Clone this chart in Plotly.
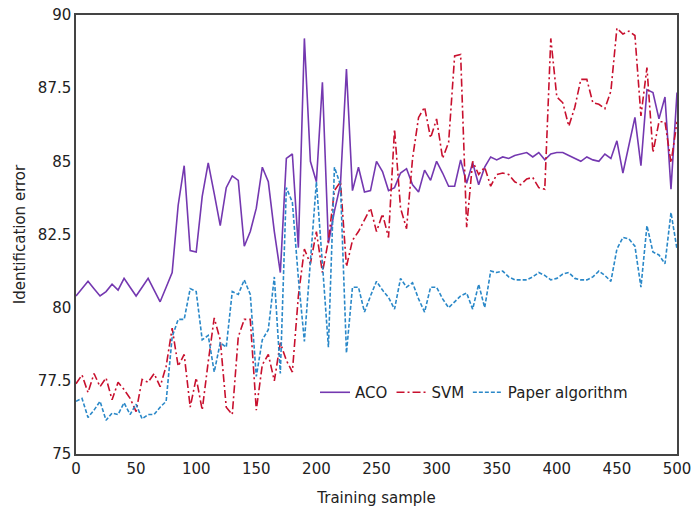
import plotly.graph_objects as go

x_vals = list(range(0, 501, 5))

aco = [80.4, 80.65, 80.9, 80.65, 80.4, 80.55, 80.8, 80.6, 81.0, 80.7,
       80.4, 80.7, 81.0, 80.6, 80.2, 80.7, 81.2, 83.5, 84.85, 81.95,
       81.9, 83.8, 84.95, 83.9, 82.8, 84.1, 84.5, 84.35, 82.1, 82.6,
       83.4, 84.8, 84.3, 82.6, 81.2, 85.1, 85.25, 82.05, 89.2, 85.0,
       84.3, 87.7, 82.2, 83.3, 84.2, 88.15, 84.0, 84.8, 83.95, 84.0,
       85.0, 84.65, 84.0, 84.1, 84.6, 84.75, 84.2, 83.95, 84.7, 84.35,
       85.0, 84.6, 84.15, 84.15, 85.05, 84.25, 84.95, 84.2, 84.8, 85.15,
       85.05, 85.15, 85.1, 85.2, 85.25, 85.3, 85.15, 85.3, 85.05, 85.25,
       85.3, 85.3, 85.2, 85.1, 85.0, 85.15, 85.05, 85.0, 85.25, 85.1,
       85.7, 84.6, 85.5, 86.5, 84.85, 87.45, 87.35, 86.45, 87.2, 84.05,
       87.35]

svm = [77.4, 77.7, 77.1, 77.75, 77.3, 77.6, 76.85, 77.45, 77.2, 76.9,
       76.45, 77.55, 77.45, 77.75, 77.3, 78.0, 79.3, 78.0, 78.4, 76.6,
       77.6, 76.5, 78.15, 79.65, 78.9, 76.6, 76.35, 79.0, 79.6, 79.6,
       76.5, 78.05, 78.4, 77.5, 78.8, 78.2, 77.8, 80.4, 82.0, 81.5,
       82.6, 81.2, 82.3, 84.0, 84.3, 81.4, 82.3, 82.6, 83.0, 83.4,
       82.6, 83.2, 82.4, 86.1, 83.4, 82.7, 85.1, 86.5, 86.85, 85.8,
       86.45, 85.1, 85.65, 88.6, 88.65, 82.75, 85.0, 84.55, 84.8, 84.15,
       84.55, 84.6, 84.55, 84.3, 84.2, 84.4, 84.45, 84.1, 84.05, 89.2,
       87.2, 87.0, 86.2, 86.85, 87.8, 87.8, 87.0, 86.95, 86.8, 87.4,
       89.55, 89.35, 89.45, 89.3, 86.55, 88.2, 85.3, 86.35, 86.35, 84.95,
       86.35]

paper = [76.8, 76.9, 76.25, 76.5, 76.8, 76.15, 76.4, 76.35, 76.75, 76.35,
         76.7, 76.2, 76.35, 76.35, 76.6, 76.8, 79.0, 79.6, 79.6, 80.65,
         80.55, 78.9, 79.05, 77.8, 78.8, 78.65, 80.55, 80.45, 80.95, 80.45,
         77.65, 78.9, 79.25, 81.05, 77.75, 84.1, 83.6, 81.0, 78.85, 81.5,
         84.3, 81.5, 78.65, 84.8, 84.2, 78.45, 80.7, 80.7, 79.85, 80.4,
         80.9, 80.6, 80.35, 79.95, 81.0, 80.7, 80.85, 80.3, 79.85, 80.7,
         80.7, 80.3, 80.0, 80.2, 80.4, 80.5, 79.95, 80.8, 80.0, 81.25,
         81.2, 81.25, 81.05, 80.95, 80.95, 80.95, 81.05, 81.2, 81.1, 80.95,
         81.0, 81.15, 81.2, 81.0, 80.95, 80.95, 81.05, 81.25, 81.1, 80.9,
         82.0, 82.4, 82.35, 82.1, 80.7, 82.8, 81.9, 81.8, 81.5, 83.25,
         82.0]

x_ticks = [0, 50, 100, 150, 200, 250, 300, 350, 400, 450, 500]
y_ticks = [75, 77.5, 80, 82.5, 85, 87.5, 90]
y_tick_text = ["75", "77.5", "80", "82.5", "85", "87.5", "90"]

fig = go.Figure()
fig.add_trace(go.Scatter(x=x_vals, y=aco, mode="lines", name="ACO", legend="legend",
                         line=dict(color="#7438B0", width=1.6, dash="solid")))
fig.add_trace(go.Scatter(x=x_vals, y=svm, mode="lines", name="SVM", legend="legend2",
                         line=dict(color="#C8102E", width=1.6, dash="8px,3px,2px,3px")))
fig.add_trace(go.Scatter(x=x_vals, y=paper, mode="lines", name="Paper algorithm", legend="legend3",
                         line=dict(color="#2A88C8", width=1.6, dash="4px,2px")))

leg_common = dict(orientation="h", y=0.14, xanchor="left", yanchor="middle",
                  bgcolor="rgba(0,0,0,0)", font=dict(size=15, color="#222222"))

fig.update_layout(
    width=692, height=507,
    margin=dict(l=76, r=15, t=15, b=53),
    paper_bgcolor="white", plot_bgcolor="white",
    font=dict(family="DejaVu Sans", size=15, color="#222222"),
    showlegend=True,
    legend=dict(x=0.3977, **leg_common),
    legend2=dict(x=0.525, **leg_common),
    legend3=dict(x=0.652, **leg_common),
    xaxis=dict(range=[0, 500], tickvals=x_ticks, showgrid=False, zeroline=False,
               showline=True, mirror=True, linecolor="#444444", linewidth=1.5,
               ticks="", automargin=False, ticklabeloverflow="allow",
               title=dict(text="Training sample", font=dict(size=15), standoff=16),
               tickfont=dict(size=15)),
    yaxis=dict(range=[75, 90], tickvals=y_ticks, ticktext=y_tick_text, showgrid=False,
               zeroline=False, showline=True, mirror=True, linecolor="#444444",
               linewidth=1.5, ticks="", automargin=False, ticklabeloverflow="allow",
               title=dict(text="Identification error", font=dict(size=15), standoff=9),
               tickfont=dict(size=15)),
)

fig.write_html("out.html", config={"displayModeBar": False},
               post_script="document.body.style.margin='0px';")
